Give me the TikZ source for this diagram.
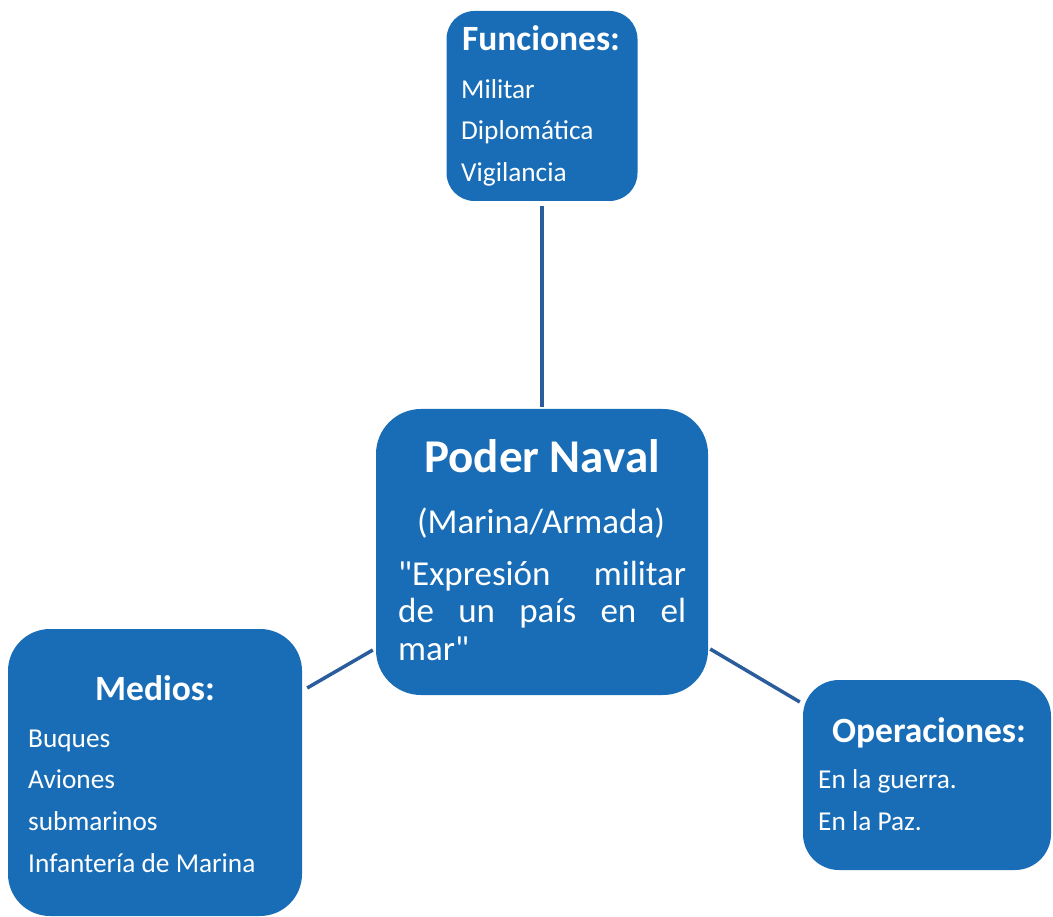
\documentclass[tikz,border=0pt]{standalone}
\usepackage{fontspec}
\newfontfamily\calib{Carlito}
\definecolor{boxblue}{HTML}{196DB6}
\definecolor{lineblue}{HTML}{2B5C9B}
\tikzset{
  bluebox/.style={draw=none, fill=boxblue, rounded corners=#1, inner sep=0pt},
  ttl/.style={text=white, font=\calib\bfseries\fontsize{35.5}{40}\selectfont, inner sep=0pt, anchor=base},
  itm/.style={text=white, font=\calib\fontsize{27.3}{32}\selectfont, inner sep=0pt, anchor=base west},
  conn/.style={draw=lineblue, line width=3.5pt}
}
\begin{document}
\begin{tikzpicture}[x=1pt,y=-1pt]
\useasboundingbox (0,0) rectangle (1053,917);
% boxes
\node[bluebox=28pt, minimum width=191pt, minimum height=190pt] (fun) at (542,106) {};
\node[bluebox=45pt, minimum width=332pt, minimum height=286pt] (pod) at (542,552) {};
\node[bluebox=42pt, minimum width=294pt, minimum height=287pt] (med) at (155,772.5) {};
\node[bluebox=36pt, minimum width=248pt, minimum height=190pt] (ope) at (927,775) {};
% texts: Funciones
\node[ttl] (funt) at (541,51) {Funciones:};
\node[itm] (f1) at (461,99) {Militar};
\node[itm] (f2) at (461,140) {Diplomática};
\node[itm] (f3) at (461,182) {Vigilancia};
% Poder Naval
\node[ttl, font=\calib\bfseries\fontsize{47}{52}\selectfont] (podt) at (542,472) {Poder Naval};
\node[ttl, font=\calib\fontsize{35}{40}\selectfont] (podm) at (541,533) {(Marina/Armada)};
\node[text=white, font=\calib\fontsize{35}{40}\selectfont, inner sep=0pt, anchor=base west] (podq) at (398,585)
  {\parbox[t]{288pt}{\baselineskip=37.5pt "Expresión militar\linebreak de un país en el\linebreak mar"}};
% Medios
\node[ttl] (medt) at (155,700) {Medios:};
\node[itm] (m1) at (28,747) {Buques};
\node[itm] (m2) at (28,788) {Aviones};
\node[itm] (m3) at (28,830) {submarinos};
\node[itm] (m4) at (28,872) {Infantería de Marina};
% Operaciones
\node[ttl] (opet) at (929,742) {Operaciones:};
\node[itm] (o1) at (818,788) {En la guerra.};
\node[itm] (o2) at (818,830) {En la Paz.};
% connectors
\draw[conn] ([yshift=-5pt]fun.south) -- ([yshift=2pt]pod.north);
\draw[conn] ([shift={(5,-84.5)}]med.east) -- ([shift={(-3,98)}]pod.west);
\draw[conn] ([shift={(2,97)}]pod.east) -- ([shift={(-3,-73)}]ope.west);
\end{tikzpicture}
\end{document}
